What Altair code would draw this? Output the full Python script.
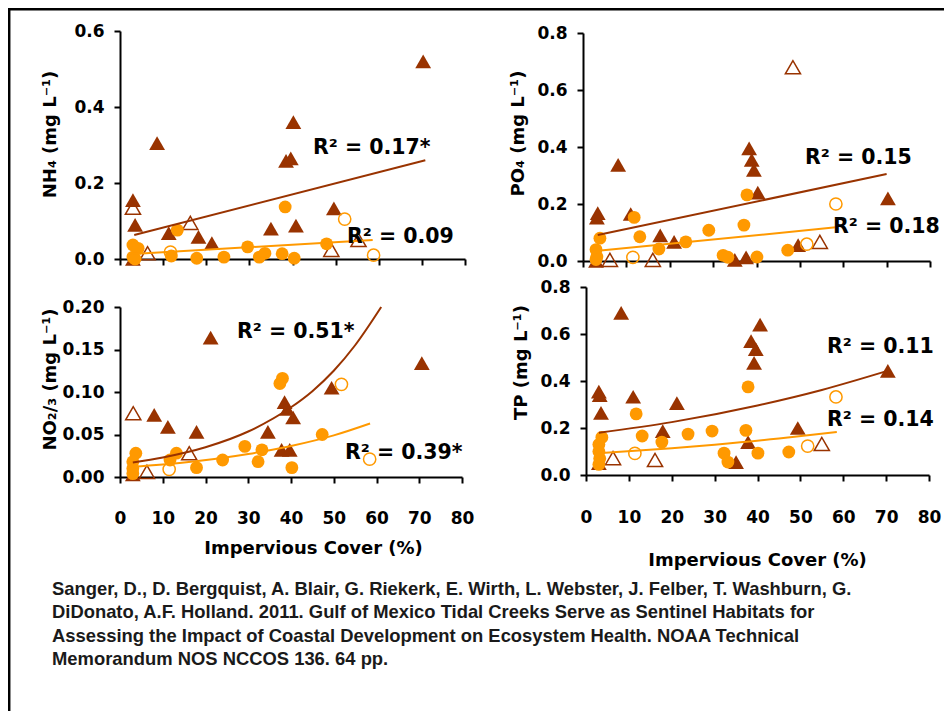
import altair as alt
import pandas as pd

BROWN = "#993300"
ORANGE = "#FF9900"
FONT = "DejaVu Sans"
CITE_FONT = "Liberation Sans"

X_TICKS = [0, 10, 20, 30, 40, 50, 60, 70, 80]
X_TITLE = "Impervious Cover (%)"

# ---------------- NH4 ----------------
NH4_TRI_X = [70.3, 40.2, 8.6, 38.5, 39.6, 3.0, 3.5, 11.3, 18.2, 21.3, 35.0, 40.8, 49.6, 3.0]
NH4_TRI_Y = [0.52, 0.36, 0.305, 0.258, 0.265, 0.155, 0.09, 0.068, 0.058, 0.042, 0.08, 0.088, 0.133, 0.0]
NH4_TRI_OPEN_X = [3.0, 16.3, 49.0, 55.3, 6.4]
NH4_TRI_OPEN_Y = [0.135, 0.095, 0.024, 0.05, 0.015]
NH4_CIR_X = [38.3, 13.3, 29.6, 47.9, 11.9, 17.8, 24.1, 32.3, 33.6, 37.6, 40.4, 3.0, 4.2, 3.0, 3.5]
NH4_CIR_Y = [0.137, 0.076, 0.032, 0.04, 0.008, 0.002, 0.005, 0.005, 0.015, 0.014, 0.002, 0.037, 0.028, 0.005, 0.0]
NH4_CIR_OPEN_X = [52.1, 11.7, 58.8]
NH4_CIR_OPEN_Y = [0.105, 0.018, 0.01]
NH4_FIT_TRI_X = [3.3, 70.8]
NH4_FIT_TRI_Y = [0.063, 0.26]
NH4_FIT_CIR_X = [3.0, 58.6]
NH4_FIT_CIR_Y = [0.013, 0.05]

# ---------------- PO4 ----------------
PO4_TRI_X = [38.3, 38.9, 39.4, 40.3, 8.1, 3.4, 3.2, 11.0, 17.8, 21.0, 70.3, 49.6, 35.0, 37.6, 3.0]
PO4_TRI_Y = [0.395, 0.355, 0.32, 0.24, 0.337, 0.168, 0.152, 0.165, 0.09, 0.067, 0.22, 0.056, 0.004, 0.013, 0.0]
PO4_TRI_OPEN_X = [48.4, 54.6, 6.2, 16.1]
PO4_TRI_OPEN_Y = [0.68, 0.067, 0.004, 0.004]
PO4_CIR_X = [37.8, 11.8, 13.1, 29.0, 37.1, 23.7, 17.5, 32.3, 33.4, 40.1, 47.2, 3.9, 3.0, 3.2, 3.0]
PO4_CIR_Y = [0.232, 0.153, 0.085, 0.108, 0.126, 0.067, 0.042, 0.02, 0.013, 0.014, 0.038, 0.08, 0.04, 0.015, 0.005]
PO4_CIR_OPEN_X = [58.3, 51.6, 11.5]
PO4_CIR_OPEN_Y = [0.2, 0.059, 0.013]
PO4_FIT_TRI_X = [3.4, 70.0]
PO4_FIT_TRI_Y = [0.091, 0.305]
PO4_FIT_CIR_X = [3.5, 58.3]
PO4_FIT_CIR_Y = [0.036, 0.118]

# ---------------- NO2/3 ----------------
NO_TRI_X = [21.2, 70.6, 49.5, 38.5, 39.1, 40.5, 8.0, 11.2, 17.9, 34.6, 37.8, 39.7, 3.0]
NO_TRI_Y = [0.164, 0.134, 0.105, 0.088, 0.08, 0.07, 0.073, 0.059, 0.053, 0.053, 0.032, 0.032, 0.003]
NO_TRI_OPEN_X = [3.1, 16.2, 6.3]
NO_TRI_OPEN_Y = [0.075, 0.028, 0.006]
NO_CIR_X = [37.4, 38.0, 47.3, 29.2, 33.2, 32.3, 24.0, 13.2, 11.7, 17.9, 40.2, 3.7, 3.0, 3.0, 3.0]
NO_CIR_Y = [0.11, 0.116, 0.05, 0.036, 0.032, 0.018, 0.02, 0.028, 0.02, 0.011, 0.011, 0.028, 0.018, 0.01, 0.004]
NO_CIR_OPEN_X = [51.8, 58.4, 11.5]
NO_CIR_OPEN_Y = [0.109, 0.021, 0.009]
NO_FIT_TRI_X = [3.0, 10.0, 20.0, 30.0, 40.0, 45.0, 50.0, 55.0, 61.1]
NO_FIT_TRI_Y = [0.017, 0.023, 0.035, 0.0535, 0.082, 0.101, 0.125, 0.155, 0.2]
NO_FIT_CIR_X = [3.0, 15.0, 30.0, 40.0, 50.0, 58.5]
NO_FIT_CIR_Y = [0.012, 0.017, 0.027, 0.0365, 0.049, 0.063]

# ---------------- TP ----------------
TP_TRI_X = [8.2, 40.6, 38.5, 39.6, 39.2, 70.4, 3.0, 3.2, 3.5, 11.0, 21.2, 17.9, 49.4, 37.8, 35.0, 3.0]
TP_TRI_Y = [0.69, 0.64, 0.57, 0.536, 0.477, 0.443, 0.355, 0.34, 0.264, 0.333, 0.306, 0.187, 0.2, 0.14, 0.055, 0.05]
TP_TRI_OPEN_X = [6.3, 16.1, 55.0]
TP_TRI_OPEN_Y = [0.072, 0.064, 0.132]
TP_CIR_X = [37.8, 11.7, 13.1, 23.8, 29.4, 37.3, 17.7, 32.2, 33.1, 40.1, 47.3, 3.7, 3.0, 3.0, 3.2, 3.0]
TP_CIR_Y = [0.375, 0.26, 0.166, 0.174, 0.187, 0.19, 0.14, 0.093, 0.055, 0.093, 0.098, 0.16, 0.13, 0.1, 0.07, 0.045]
TP_CIR_OPEN_X = [58.3, 51.7, 11.4]
TP_CIR_OPEN_Y = [0.332, 0.123, 0.092]
TP_FIT_TRI_X = [3.0, 20.0, 40.0, 55.0, 70.3]
TP_FIT_TRI_Y = [0.18, 0.225, 0.296, 0.362, 0.443]
TP_FIT_CIR_X = [3.7, 20.0, 30.0, 45.0, 58.5]
TP_FIT_CIR_Y = [0.094, 0.114, 0.129, 0.155, 0.183]

R2_TEXT = ["R² = 0.17*", "R² = 0.09", "R² = 0.15", "R² = 0.18",
           "R² = 0.51*", "R² = 0.39*", "R² = 0.11", "R² = 0.14"]

CITATION = [
    "Sanger, D., D. Bergquist, A. Blair, G. Riekerk, E. Wirth, L. Webster, J. Felber, T. Washburn, G.",
    "DiDonato, A.F. Holland. 2011. Gulf of Mexico Tidal Creeks Serve as Sentinel Habitats for",
    "Assessing the Impact of Coastal Development on Ecosystem Health. NOAA Technical",
    "Memorandum NOS NCCOS 136. 64 pp.",
]

W, H = 824, 680


def axis_common(**kw):
    return alt.Axis(grid=False, domainColor="black", domainWidth=2, tickColor="black",
                    tickWidth=2, tickSize=6, labelFont=FONT, labelFontSize=17,
                    labelFontWeight="bold", labelColor="black", labelOverlap=False,
                    labelFlush=False, titleFont=FONT, titleFontSize=18,
                    titleFontWeight="bold", titleColor="black", titleBaseline="middle",
                    titleAlign="center", **kw)


def panel(data, xrange, yrange, ydomain, yticks, yfmt, ytitle, ytx, yty,
          show_x, xtx=0, xty=0, xlabpad=27):
    (tx, ty, tox, toy, cx, cy, cox, coy, ftx, fty, fcx, fcy) = data
    xs = alt.Scale(domain=[0, 80], range=xrange, nice=False, zero=False)
    ys = alt.Scale(domain=ydomain, range=yrange, nice=False, zero=False)
    x_offset = yrange[0] - H
    if show_x:
        xa = axis_common(orient="bottom", offset=x_offset, values=X_TICKS, labelPadding=xlabpad,
                         title=X_TITLE, titleX=xtx, titleY=xty, titleAngle=0)
    else:
        xa = axis_common(orient="bottom", offset=x_offset, values=X_TICKS, labels=False, title=None)
    ya = axis_common(orient="left", offset=-xrange[0], values=yticks, format=yfmt, labelPadding=10,
                     title=ytitle, titleX=ytx, titleY=yty, titleAngle=270)

    def enc(ch):
        return ch.encode(x=alt.X("x:Q", scale=xs, axis=xa), y=alt.Y("y:Q", scale=ys, axis=ya))

    def df(xv, yv):
        return pd.DataFrame({"x": xv, "y": yv})

    tri = enc(alt.Chart(df(tx, ty)).mark_point(shape="triangle-up", filled=True, color=BROWN,
                                               size=250, opacity=1))
    tri_o = enc(alt.Chart(df(tox, toy)).mark_point(shape="triangle-up", filled=False, color=BROWN,
                                                   size=230, opacity=1, strokeWidth=1.5))
    cir = enc(alt.Chart(df(cx, cy)).mark_point(shape="circle", filled=True, color=ORANGE,
                                               size=165, opacity=1))
    cir_o = enc(alt.Chart(df(cox, coy)).mark_point(shape="circle", filled=False, color=ORANGE,
                                                   size=150, opacity=1, strokeWidth=1.5))
    fit_t = enc(alt.Chart(df(ftx, fty)).mark_line(color=BROWN, strokeWidth=2, interpolate="monotone"))
    fit_c = enc(alt.Chart(df(fcx, fcy)).mark_line(color=ORANGE, strokeWidth=2, interpolate="monotone"))
    return alt.layer(tri, tri_o, cir, cir_o, fit_t, fit_c)


p1 = panel((NH4_TRI_X, NH4_TRI_Y, NH4_TRI_OPEN_X, NH4_TRI_OPEN_Y, NH4_CIR_X, NH4_CIR_Y,
            NH4_CIR_OPEN_X, NH4_CIR_OPEN_Y, NH4_FIT_TRI_X, NH4_FIT_TRI_Y, NH4_FIT_CIR_X, NH4_FIT_CIR_Y),
           [0, 345], [228, 0], [0, 0.6], [0, 0.2, 0.4, 0.6], ".1f", "NH₄ (mg L⁻¹)", -70, 103, False)
p2 = panel((PO4_TRI_X, PO4_TRI_Y, PO4_TRI_OPEN_X, PO4_TRI_OPEN_Y, PO4_CIR_X, PO4_CIR_Y,
            PO4_CIR_OPEN_X, PO4_CIR_OPEN_Y, PO4_FIT_TRI_X, PO4_FIT_TRI_Y, PO4_FIT_CIR_X, PO4_FIT_CIR_Y),
           [463, 810], [230, 2], [0, 0.8], [0, 0.2, 0.4, 0.6, 0.8], ".1f", "PO₄ (mg L⁻¹)", -65, 102, False)
p3 = panel((NO_TRI_X, NO_TRI_Y, NO_TRI_OPEN_X, NO_TRI_OPEN_Y, NO_CIR_X, NO_CIR_Y,
            NO_CIR_OPEN_X, NO_CIR_OPEN_Y, NO_FIT_TRI_X, NO_FIT_TRI_Y, NO_FIT_CIR_X, NO_FIT_CIR_Y),
           [0, 342], [446, 276], [0, 0.2], [0, 0.05, 0.1, 0.15, 0.2], ".2f", "NO₂/₃ (mg L⁻¹)", -70, 348,
           True, 193, 71, 27)
p4 = panel((TP_TRI_X, TP_TRI_Y, TP_TRI_OPEN_X, TP_TRI_OPEN_Y, TP_CIR_X, TP_CIR_Y,
            TP_CIR_OPEN_X, TP_CIR_OPEN_Y, TP_FIT_TRI_X, TP_FIT_TRI_Y, TP_FIT_CIR_X, TP_FIT_CIR_Y),
           [466, 809], [444, 256], [0, 0.8], [0, 0.2, 0.4, 0.6, 0.8], ".1f", "TP (mg L⁻¹)", -65, 331,
           True, 637, 85, 28)

one = pd.DataFrame({"k": [0]})

# R² annotations (left x, middle y in plot-frame pixels)
LABEL_POS = [(193, 117), (227, 206), (685, 127), (713, 196),
             (117, 301), (225, 422), (707, 316), (707, 389)]
labels = []
for txt, (lx, ly) in zip(R2_TEXT, LABEL_POS):
    labels.append(alt.Chart(pd.DataFrame({"t": [txt]})).mark_text(
        align="left", baseline="middle", font=FONT, fontSize=20.5, fontWeight="bold", color="black"
    ).encode(x=alt.value(lx), y=alt.value(ly), text="t:N"))

cites = []
for i, line in enumerate(CITATION):
    cites.append(alt.Chart(pd.DataFrame({"t": [line]})).mark_text(
        align="left", baseline="middle", font=CITE_FONT, fontSize=18.4, fontWeight="bold", color="#1a1a1a"
    ).encode(x=alt.value(-68), y=alt.value(558 + i * 23.4), text="t:N"))

border_top = alt.Chart(one).mark_rule(color="black", strokeWidth=2.5).encode(
    x=alt.value(-112), x2=alt.value(W), y=alt.value(-21.8))
border_left = alt.Chart(one).mark_rule(color="black", strokeWidth=2.5).encode(
    x=alt.value(-110.8), y=alt.value(-23), y2=alt.value(H))

chart = alt.layer(p1, p2, p3, p4, *labels, *cites, border_top, border_left).resolve_scale(
    x="independent", y="independent"
).resolve_axis(
    x="independent", y="independent"
).properties(
    width=W, height=H,
    autosize=alt.AutoSizeParams(type="none"),
    padding={"left": 112, "top": 23, "right": 0, "bottom": 0},
    background="white",
).configure_view(stroke=None)

chart.save("out.html", embed_options={"renderer": "svg", "actions": False})
